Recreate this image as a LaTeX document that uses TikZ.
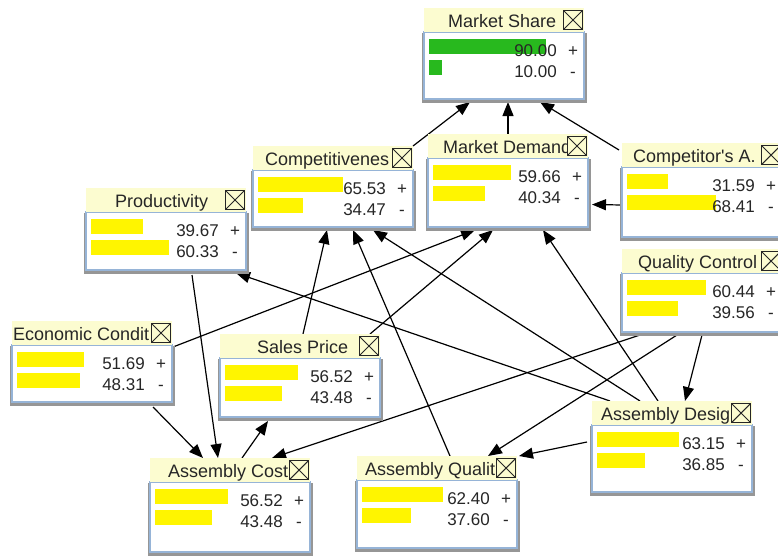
\documentclass[tikz,border=0pt]{standalone}
\usepackage{fontspec}
\setmainfont{Liberation Sans}
\usetikzlibrary{arrows.meta,calc}
\pgfdeclarelayer{bg}
\pgfsetlayers{bg,main}
\definecolor{hdrc}{RGB}{252,252,208}
\definecolor{barY}{RGB}{255,245,0}
\definecolor{barG}{RGB}{40,185,30}
\definecolor{brdc}{RGB}{150,180,215}
\definecolor{shdc}{RGB}{150,150,150}
\tikzset{
 bnbox/.style={draw=brdc, line width=1.5pt, fill=white, minimum width=160pt, inner sep=0pt, outer sep=0pt},
 bnhdr/.style={fill=hdrc, minimum width=160pt, minimum height=24pt, inner sep=0pt, outer sep=0pt},
 bntitle/.style={font=\fontsize{18}{20}\selectfont, inner sep=0pt, anchor=base west, text=black!85},
 bnx/.style={draw=black!85, line width=0.9pt, fill=hdrc, minimum width=19pt, minimum height=19pt, inner sep=0pt,
   path picture={\draw[line width=0.9pt, black!85] (path picture bounding box.north west) -- (path picture bounding box.south east)
     (path picture bounding box.north east) -- (path picture bounding box.south west);}},
 bnval/.style={font=\fontsize{17}{18}\selectfont, inner sep=0pt, text height=12pt, text depth=0pt, text=black!85},
 arr/.style={line width=1.2pt, -{Triangle[length=14pt,width=11pt]}},
}
\newcommand{\bnnode}[9]{%
 \fill[shdc] (#2-2,#3+1) rectangle (#2+163,#3+#4+4);
 \node[bnbox, minimum height=#4pt, anchor=north west] (#1) at (#2,#3) {};
 \node[bnhdr, anchor=south west] (#1h) at (#2,#3) {};
 \node[bntitle] (#1t) at (#5,#3-5) {#6};
 \node[bnx, anchor=south east] (#1x) at (#2+159,#3-2) {};
 \fill[#9] (#2+5,#3+7) rectangle ++(1.3*#7,15);
 \fill[#9] (#2+5,#3+28) rectangle ++(1.3*#8,15);
 \node[bnval, anchor=east] (#1a) at (#2+133,#3+18) {#7};
 \node[bnval] (#1p) at (#2+149,#3+18) {+};
 \node[bnval, anchor=east] (#1b) at (#2+133,#3+39) {#8};
 \node[bnval] (#1m) at (#2+149,#3+39) {-};
}
\begin{document}
\begin{tikzpicture}[x=1pt,y=-1pt]
\useasboundingbox (0,0) rectangle (778,557);
\bnnode{ms}{424}{32}{67}{448}{Market Share}{90.00}{10.00}{barG}
\bnnode{cp}{253}{170}{57}{265}{Competitivenes}{65.53}{34.47}{barY}
\bnnode{md}{428}{158}{69}{443}{Market Demand}{59.66}{40.34}{barY}
\bnnode{ca}{622}{167}{70}{633}{Competitor\textquotesingle s A.}{31.59}{68.41}{barY}
\bnnode{pr}{86}{212}{58}{115}{Productivity}{39.67}{60.33}{barY}
\bnnode{qc}{622}{273}{59}{638}{Quality Control}{60.44}{39.56}{barY}
\bnnode{ec}{12}{345}{57}{13}{Economic Condit}{51.69}{48.31}{barY}
\bnnode{sp}{220}{358}{59}{257}{Sales Price}{56.52}{43.48}{barY}
\bnnode{ac}{150}{482}{70}{168}{Assembly Cost}{56.52}{43.48}{barY}
\bnnode{aq}{357}{480}{68}{365}{Assembly Qualit}{62.40}{37.60}{barY}
\bnnode{ad}{592}{425}{67}{601}{Assembly Desig}{63.15}{36.85}{barY}
\begin{pgfonlayer}{bg}
\fill[white] (0,0) rectangle (778,557);
\draw[arr] (cph.north east) -- ($(ms.south)+(-34,3)$);
\draw[arr] (mdh.north) -- ($(ms.south)+(4,3)$);
\draw[arr] ($(cah.north west)+(-3,7)$) -- ($(ms.south)+(36,3)$);
\draw[arr] ($(ca.west)+(0,3)$) -- ($(md.east)+(4,12)$);
\draw[arr] ($(sph.north)+(3,0)$) -- ($(cp.south)+(-6,3)$);
\draw[arr] ($(aqh.north)+(13,0)$) -- ($(cp.south)+(20,3)$);
\draw[arr] ($(adh.north)+(-32,0)$) -- ($(cp.south)+(40,3)$);
\draw[arr] ($(ec.north east)+(1,2)$) -- ($(md.south)+(-33,3)$);
\draw[arr] ($(sph.north east)+(-10,0)$) -- ($(md.south)+(-15,3)$);
\draw[arr] ($(adh.north)+(-14,0)$) -- ($(md.south)+(35,3)$);
\draw[arr] ($(adh.north west)+(18,0)$) -- ($(pr.south east)+(-10,3)$);
\draw[arr] ($(ec.south east)+(-19,5)$) -- ($(ach.north west)+(53,0)$);
\draw[arr] ($(pr.south)+(26,5)$) -- ($(ach.north west)+(68,0)$);
\draw[arr] ($(ach.north west)+(92,0)$) -- ($(sp.south west)+(48,4)$);
\draw[arr] ($(qc.south west)+(21,2)$) -- ($(ach.north west)+(122,0)$);
\draw[arr] ($(qc.south west)+(55,3)$) -- ($(aqh.north west)+(131,0)$);
\draw[arr] ($(qc.south)+(0,3)$) -- ($(adh.north)+(13,0)$);
\draw[arr] ($(ad.north west)+(-5,17)$) -- ($(aqh.north east)+(2,0)$);
\end{pgfonlayer}
\end{tikzpicture}
\end{document}
